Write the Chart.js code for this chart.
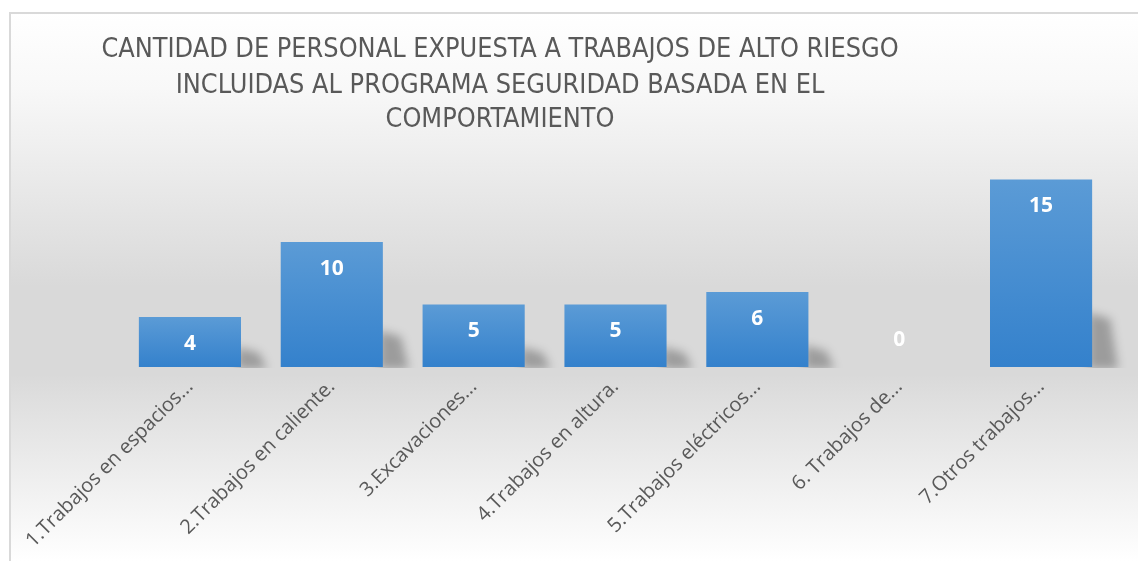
<!DOCTYPE html>
<html>
<head>
<meta charset="utf-8">
<script src="https://cdn.jsdelivr.net/npm/chart.js@4.4.1/dist/chart.umd.min.js"></script>
<style>
  html, body { margin: 0; padding: 0; background: #ffffff; }
  #wrap { width: 1138px; height: 561px; }
</style>
</head>
<body>
<div id="wrap"><canvas id="c" width="1138" height="561"></canvas></div>
<script>
const titleLines = [
  "CANTIDAD DE PERSONAL EXPUESTA A TRABAJOS DE ALTO RIESGO",
  "INCLUIDAS AL PROGRAMA SEGURIDAD BASADA EN EL",
  "COMPORTAMIENTO"
];
const categories = [
  "1.Trabajos en espacios...",
  "2.Trabajos en caliente.",
  "3.Excavaciones...",
  "4.Trabajos en altura.",
  "5.Trabajos eléctricos...",
  "6. Trabajos de...",
  "7.Otros trabajos..."
];
const values = [4, 10, 5, 5, 6, 0, 15];
const yMin = 0;
const yMax = 16;

const bgPlugin = {
  id: 'bg',
  beforeDraw(chart) {
    const ctx = chart.ctx;
    ctx.save();
    ctx.fillStyle = '#ffffff';
    ctx.fillRect(0, 0, chart.width, chart.height);
    const g = ctx.createLinearGradient(0, 12, 0, chart.height);
    g.addColorStop(0.0, '#ffffff');
    g.addColorStop(0.14, '#f8f8f8');
    g.addColorStop(0.50, '#d9d9d9');
    g.addColorStop(0.66, '#d9d9d9');
    g.addColorStop(0.70, '#dedede');
    g.addColorStop(1.0, '#ffffff');
    ctx.fillStyle = g;
    ctx.fillRect(10, 12, chart.width - 10, chart.height - 12);
    ctx.strokeStyle = '#d9d9d9';
    ctx.lineWidth = 2;
    ctx.beginPath();
    ctx.moveTo(10, chart.height);
    ctx.lineTo(10, 13);
    ctx.lineTo(chart.width, 13);
    ctx.stroke();
    ctx.restore();
  }
};

const titlePlugin = {
  id: 'customTitle',
  afterDraw(chart) {
    const ctx = chart.ctx;
    ctx.save();
    ctx.fillStyle = '#595959';
    ctx.font = '26.8px "DejaVu Sans Condensed", "Liberation Sans", sans-serif';
    ctx.textAlign = 'center';
    ctx.textBaseline = 'middle';
    const ys = [50, 86, 120];
    titleLines.forEach((t, i) => ctx.fillText(t, 500, ys[i]));
    ctx.restore();
  }
};

const shadowPlugin = {
  id: 'barShadow',
  beforeDatasetsDraw(chart) {
    const ctx = chart.ctx;
    const meta = chart.getDatasetMeta(0);
    ctx.save();
    ctx.beginPath();
    ctx.rect(0, 0, chart.width, chart.chartArea.bottom + 1);
    ctx.clip();
    meta.data.forEach((bar, i) => {
      if (!values[i]) return;
      const right = bar.x + bar.width / 2;
      const bottom = bar.base;
      const h = bottom - bar.y;
      const sh = Math.max(20, h * 0.29);
      ctx.save();
      ctx.filter = 'blur(5px)';
      ctx.fillStyle = 'rgba(0,0,0,0.28)';
      ctx.beginPath();
      ctx.moveTo(right - 4, bottom + 2);
      ctx.lineTo(right - 4, bottom - sh);
      ctx.lineTo(right + 18, bottom - sh + 6);
      ctx.lineTo(right + 26, bottom + 2);
      ctx.closePath();
      ctx.fill();
      ctx.restore();
    });
    ctx.restore();
  }
};

const valuePlugin = {
  id: 'valueLabels',
  afterDatasetsDraw(chart) {
    const ctx = chart.ctx;
    const meta = chart.getDatasetMeta(0);
    ctx.save();
    ctx.fillStyle = '#ffffff';
    ctx.font = 'bold 21px "Open Sans", sans-serif';
    ctx.textAlign = 'center';
    ctx.textBaseline = 'middle';
    meta.data.forEach((bar, i) => {
      const y = values[i] > 0 ? bar.y + 27 : bar.y - 27;
      ctx.fillText(String(values[i]), bar.x, y);
    });
    ctx.restore();
  }
};

function barGradient(context) {
  const chart = context.chart;
  const ys = chart.scales && chart.scales.y;
  if (!ys || context.dataIndex === undefined) return '#4a8fd4';
  const v = values[context.dataIndex];
  const top = ys.getPixelForValue(v);
  const bottom = ys.getPixelForValue(0);
  if (!isFinite(top) || !isFinite(bottom) || bottom - top < 1) return '#4a8fd4';
  const g = chart.ctx.createLinearGradient(0, top, 0, bottom);
  g.addColorStop(0, '#5b9bd6');
  g.addColorStop(1, '#3481cc');
  return g;
}

new Chart(document.getElementById('c'), {
  type: 'bar',
  data: {
    labels: categories,
    datasets: [{
      data: values,
      backgroundColor: barGradient,
      borderWidth: 0,
      categoryPercentage: 1.0,
      barPercentage: 0.72
    }]
  },
  options: {
    responsive: false,
    animation: false,
    devicePixelRatio: 1,
    layout: { padding: { left: 119, right: 26, top: 167, bottom: 0 } },
    plugins: {
      legend: { display: false },
      title: { display: false },
      tooltip: { enabled: false }
    },
    scales: {
      x: {
        grid: { display: false },
        border: { display: false },
        ticks: {
          color: '#595959',
          font: { family: '"Open Sans", sans-serif', size: 20 },
          minRotation: 45,
          maxRotation: 45,
          autoSkip: false,
          padding: 0
        },
        afterFit(scale) { scale.height = 194; }
      },
      y: {
        display: false,
        min: yMin,
        max: yMax
      }
    }
  },
  plugins: [bgPlugin, shadowPlugin, valuePlugin, titlePlugin]
});
</script>
</body>
</html>
